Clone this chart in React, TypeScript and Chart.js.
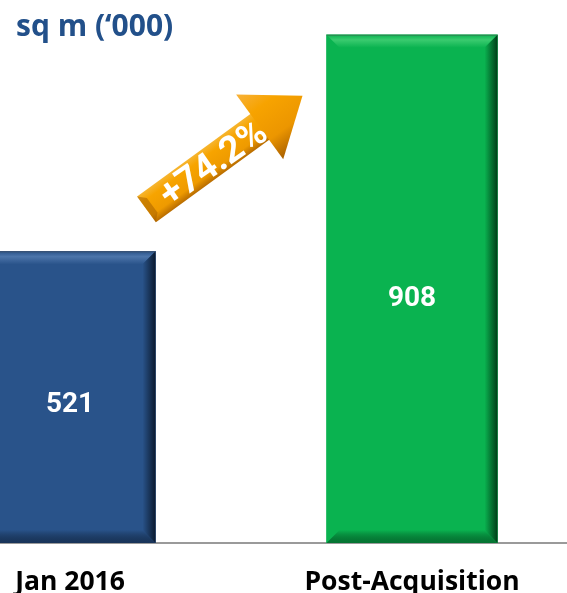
import { useEffect, useRef } from "react";
import { Chart, registerables } from "chart.js";
Chart.register(...registerables);

const categories = ["Jan 2016", "Post-Acquisition"];
const areaValues = [521, 908];
const xPositions = [0, 1];
const barColors = ["#29538A", "#0AB350"];
const bevelLight = ["#4C75AA", "#3ACB6F"];
const bevelDark = ["#0B1A2F", "#003D18"];
const growthLabel = "+74.2%";
const unitTitle = "sq m (\u2018000)";

export default function App() {
  const ref = useRef<HTMLCanvasElement>(null);

  useEffect(() => {
    const canvas = ref.current!;

    const bevelPlugin = {
      id: "bevel",
      afterDatasetsDraw(chart: any) {
        const ctx = chart.ctx;
        const meta = chart.getDatasetMeta(0);
        meta.data.forEach((bar: any, i: number) => {
          const { x, y, base, width } = bar.getProps(["x", "y", "base", "width"], true);
          const l = x - width / 2, r = x + width / 2, t = y, b = base;
          const bv = 13;
          ctx.save();
          let g = ctx.createLinearGradient(0, t, 0, t + bv);
          g.addColorStop(0, barColors[i]);
          g.addColorStop(0.4, bevelLight[i]);
          g.addColorStop(1, barColors[i]);
          ctx.fillStyle = g;
          ctx.beginPath();
          ctx.moveTo(l, t); ctx.lineTo(r, t); ctx.lineTo(r - bv, t + bv); ctx.lineTo(l + bv, t + bv);
          ctx.closePath(); ctx.fill();
          g = ctx.createLinearGradient(0, b - bv, 0, b);
          g.addColorStop(0, barColors[i]);
          g.addColorStop(1, bevelDark[i] + "88");
          ctx.fillStyle = g;
          ctx.beginPath();
          ctx.moveTo(l + bv, b - bv); ctx.lineTo(r - bv, b - bv); ctx.lineTo(r, b); ctx.lineTo(l, b);
          ctx.closePath(); ctx.fill();
          g = ctx.createLinearGradient(r - bv, 0, r, 0);
          g.addColorStop(0, barColors[i]);
          g.addColorStop(1, bevelDark[i]);
          ctx.fillStyle = g;
          ctx.beginPath();
          ctx.moveTo(r, t); ctx.lineTo(r, b); ctx.lineTo(r - bv, b - bv); ctx.lineTo(r - bv, t + bv);
          ctx.closePath(); ctx.fill();
          ctx.fillStyle = "rgba(80,80,80,0.5)";
          ctx.fillRect(l, t, width, 1);
          ctx.restore();
        });
      },
    };

    const valuePlugin = {
      id: "values",
      afterDatasetsDraw(chart: any) {
        const ctx = chart.ctx;
        const meta = chart.getDatasetMeta(0);
        ctx.save();
        ctx.fillStyle = "#FFFFFF";
        ctx.font = "bold 28px Roboto";
        ctx.textAlign = "center";
        ctx.textBaseline = "alphabetic";
        meta.data.forEach((bar: any, i: number) => {
          const { x, y, base } = bar.getProps(["x", "y", "base"], true);
          const cy = y + 0.515 * (base - y);
          ctx.fillText(String(areaValues[i]), x, cy + 10);
        });
        ctx.restore();
      },
    };

    const arrowPlugin = {
      id: "arrow",
      afterDraw(chart: any) {
        const ctx = chart.ctx;
        const meta = chart.getDatasetMeta(0);
        const b0 = meta.data[0].getProps(["x", "y", "width"], true);
        const b1 = meta.data[1].getProps(["x", "y", "width"], true);
        const sx = b0.x + b0.width / 2 - 9, sy = b0.y - 42;
        const tx = b1.x - b1.width / 2 - 24, ty = b1.y + 61;
        const dx = tx - sx, dy = ty - sy;
        const len = Math.hypot(dx, dy);
        const ang = Math.atan2(dy, dx);
        const headLen = 53, headHalf = 40, shaftHalf = 16;
        ctx.save();
        ctx.translate(sx, sy);
        ctx.rotate(ang);
        let g = ctx.createLinearGradient(0, -shaftHalf, 0, shaftHalf);
        g.addColorStop(0, "#F6B530");
        g.addColorStop(0.25, "#F7A400");
        g.addColorStop(0.75, "#EE9A00");
        g.addColorStop(1, "#B86C00");
        ctx.fillStyle = g;
        ctx.beginPath();
        ctx.moveTo(0, -shaftHalf);
        ctx.lineTo(len - headLen + 1, -shaftHalf);
        ctx.lineTo(len - headLen + 1, shaftHalf);
        ctx.lineTo(0, shaftHalf);
        ctx.closePath();
        ctx.fill();
        ctx.fillStyle = "rgba(150,85,0,0.45)";
        ctx.beginPath();
        ctx.moveTo(0, -shaftHalf); ctx.lineTo(7, -shaftHalf + 7); ctx.lineTo(7, shaftHalf - 7); ctx.lineTo(0, shaftHalf);
        ctx.closePath(); ctx.fill();
        g = ctx.createLinearGradient(0, -headHalf, 0, headHalf);
        g.addColorStop(0, "#F8B23A");
        g.addColorStop(0.3, "#F7A300");
        g.addColorStop(0.7, "#EC9600");
        g.addColorStop(1, "#A85F00");
        ctx.fillStyle = g;
        ctx.beginPath();
        ctx.moveTo(len - headLen, -headHalf);
        ctx.lineTo(len, 0);
        ctx.lineTo(len - headLen, headHalf);
        ctx.closePath();
        ctx.fill();
        ctx.fillStyle = "#FFFFFF";
        ctx.font = "bold 37px Roboto";
        ctx.textAlign = "center";
        ctx.textBaseline = "middle";
        ctx.translate(len * 0.42, 4);
        ctx.rotate(0.02);
        ctx.fillText(growthLabel, 0, 0);
        ctx.restore();
      },
    };

    const chart = new Chart(canvas, {
      type: "bar",
      data: {
        datasets: [
          {
            data: xPositions.map((x, i) => ({ x, y: areaValues[i] })),
            backgroundColor: barColors,
            borderWidth: 0,
            barThickness: 171,
          },
        ],
      },
      options: {
        animation: false,
        responsive: false,
        events: [],
        layout: { padding: 0 },
        plugins: { legend: { display: false }, tooltip: { enabled: false }, title: { display: false } },
        scales: {
          x: {
            type: "linear",
            min: -70 / 342,
            max: (567 - 70) / 342,
            offset: false,
            grid: { display: false, drawTicks: true, tickLength: 24 },
            border: { display: true, color: "#9A9A9A", width: 2 },
            afterBuildTicks: (scale: any) => {
              scale.ticks = xPositions.map((v) => ({ value: v }));
            },
            afterFit: (scale: any) => {
              scale.height = 50;
              scale.paddingLeft = 0;
              scale.paddingRight = 0;
            },
            ticks: {
              autoSkip: false,
              maxRotation: 0,
              minRotation: 0,
              padding: 0,
              color: "#000000",
              font: { family: "'Open Sans'", weight: "bold", size: 26.5 },
              callback: (v: any) => {
                const idx = xPositions.indexOf(Number(v));
                return idx >= 0 ? categories[idx] : "";
              },
            },
          },
          y: { display: false, min: 0, max: 970 },
        },
      },
      plugins: [bevelPlugin, valuePlugin, arrowPlugin],
    } as any);

    return () => chart.destroy();
  }, []);

  return (
    <div style={{ position: "fixed", left: 0, top: 0, width: 567, height: 593, overflow: "hidden", background: "#fff" }}>
      <canvas ref={ref} width={567} height={593} style={{ display: "block" }} />
      <div
        style={{
          position: "absolute",
          left: 16,
          top: 10,
          fontFamily: "'Open Sans'",
          fontWeight: "bold",
          fontSize: 30,
          lineHeight: "30px",
          color: "#22508A",
          whiteSpace: "nowrap",
        }}
      >
        {unitTitle}
      </div>
    </div>
  );
}
